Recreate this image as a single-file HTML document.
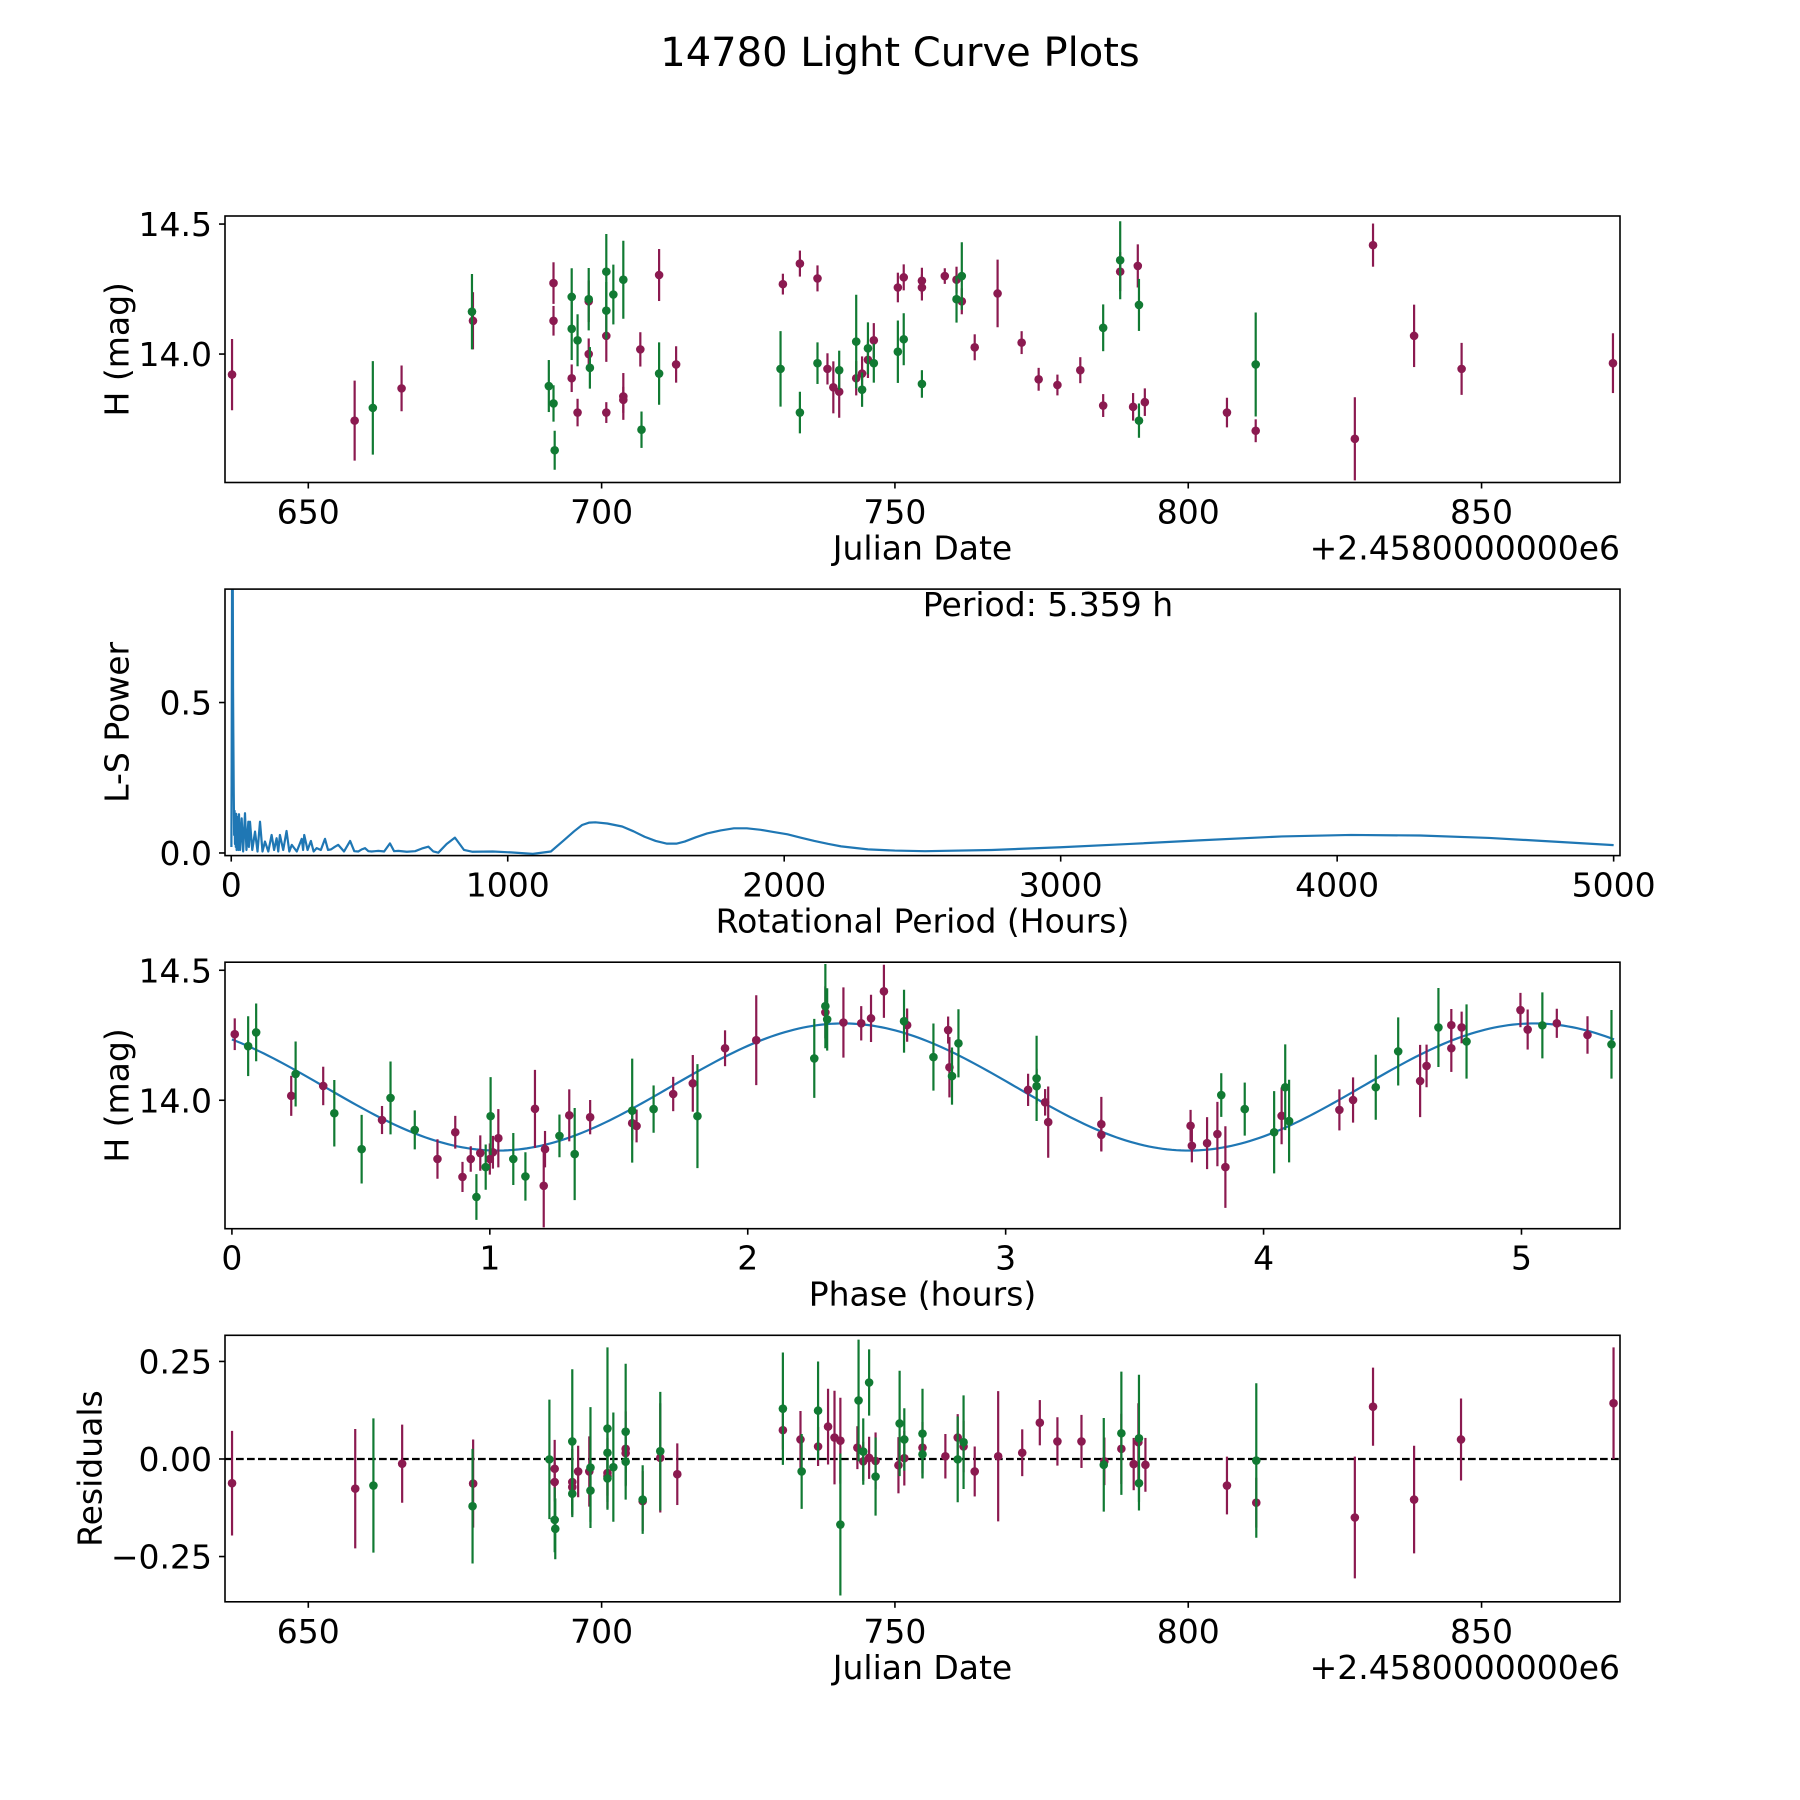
<!DOCTYPE html>
<html><head><meta charset="utf-8"><style>
html,body{margin:0;padding:0;background:#fff}
svg{display:block}
text{font-family:"DejaVu Sans","Liberation Sans",sans-serif;fill:#000}
</style></head><body>
<svg id="fig" width="1800" height="1800" viewBox="0 0 1800 1800" xmlns="http://www.w3.org/2000/svg">
<rect x="0" y="0" width="1800" height="1800" fill="#fff"/>
<text x="900" y="66" font-size="40" text-anchor="middle">14780 Light Curve Plots</text>
</svg>
<script>
// ---- Panel 1: light curve (JD offset, mag, err)
const jdM=[637.0,657.9,665.9,678.07,691.8,691.8,694.9,695.9,697.8,697.8,700.8,700.8,703.7,703.7,706.6,709.8,712.7,730.9,733.8,736.8,738.5,739.5,740.5,743.4,744.4,745.4,746.4,750.5,751.5,754.6,754.6,758.5,760.5,761.4,763.6,767.5,771.6,774.5,777.7,781.6,785.5,788.4,790.6,791.4,792.6,806.6,811.5,828.4,831.5,838.5,846.6,872.4];
const magM=[13.921,13.744,13.868,14.128,14.273,14.128,13.907,13.775,14.203,14.0,14.07,13.775,13.837,13.824,14.018,14.304,13.96,14.269,14.348,14.291,13.943,13.872,13.855,13.907,13.925,13.978,14.053,14.256,14.295,14.282,14.256,14.3,14.286,14.203,14.026,14.233,14.044,13.903,13.881,13.938,13.802,14.317,13.797,14.339,13.815,13.775,13.705,13.674,14.419,14.07,13.943,13.965];
const errM=[0.137,0.154,0.088,0.11,0.08,0.057,0.053,0.053,0.08,0.06,0.1,0.04,0.09,0.05,0.066,0.1,0.07,0.04,0.05,0.05,0.06,0.1,0.1,0.066,0.066,0.07,0.066,0.057,0.05,0.05,0.05,0.03,0.05,0.05,0.05,0.13,0.044,0.044,0.04,0.05,0.044,0.075,0.053,0.083,0.053,0.057,0.044,0.16,0.083,0.12,0.1,0.115];
const jdG=[661.0,677.9,691.0,691.8,692.0,694.9,694.9,695.9,697.8,698.0,700.8,700.8,702.0,703.7,706.8,709.8,730.5,733.8,736.8,740.5,743.4,744.4,745.4,746.4,750.5,751.5,754.6,760.5,761.4,785.5,788.4,791.6,791.6,811.5];
const magG=[13.793,14.163,13.877,13.81,13.63,14.22,14.097,14.053,14.211,13.947,14.317,14.167,14.229,14.286,13.709,13.925,13.943,13.775,13.965,13.938,14.048,13.863,14.022,13.965,14.009,14.057,13.885,14.211,14.3,14.101,14.361,14.189,13.744,13.96];
const errG=[0.18,0.145,0.1,0.07,0.075,0.11,0.12,0.1,0.12,0.08,0.145,0.11,0.115,0.15,0.07,0.12,0.145,0.08,0.08,0.075,0.18,0.066,0.1,0.075,0.12,0.1,0.053,0.09,0.13,0.09,0.15,0.1,0.066,0.2];
// ---- Panel 2: periodogram
const perHours=[0.5,1.5,3,4,5.4,6.5,7.5,9,10.5,12,13.5,15,16.5,18,19.5,21,22.5,24,26,28,32,37.7,43,49.7,55,61.8,64,67.8,76,86,95,104,113,122,134,146,155,164,170,176,188,200,210,219,237,255,260,264,276,288,298,309,324,339,350,361,374,387,408,430,445,460,472,484,496,508,520,532,553,574,589,604,635,665,690,713,731,749,779,809,842,873,946,1011,1091,1156,1204,1240,1269,1295,1317,1360,1414,1455,1495,1535,1576,1610,1640,1680,1721,1770,1818,1865,1915,1960,2012,2060,2109,2160,2206,2303,2400,2509,2750,3000,3250,3500,3800,4050,4300,4550,4800,5000];
const lsPower=[0.02,0.3,0.95,0.95,0.95,0.55,0.4,0.2,0.06,0.14,0.03,0.1,0.02,0.13,0.01,0.11,0.02,0.12,0.01,0.129,0.01,0.115,0.005,0.132,0.01,0.104,0.02,0.104,0.01,0.071,0.005,0.104,0.005,0.038,0.005,0.06,0.01,0.049,0.005,0.06,0.01,0.073,0.005,0.027,0.005,0.047,0.01,0.06,0.01,0.04,0.005,0.016,0.01,0.047,0.01,0.012,0.02,0.027,0.005,0.04,0.006,0.005,0.012,0.016,0.006,0.005,0.006,0.007,0.005,0.032,0.006,0.007,0.004,0.006,0.015,0.021,0.005,0.001,0.03,0.051,0.01,0.004,0.005,0.002,-0.003,0.005,0.043,0.072,0.093,0.101,0.102,0.098,0.088,0.072,0.054,0.04,0.031,0.031,0.038,0.052,0.065,0.075,0.082,0.082,0.077,0.07,0.062,0.051,0.04,0.03,0.022,0.012,0.008,0.006,0.01,0.019,0.03,0.042,0.055,0.06,0.058,0.05,0.037,0.026,0.02];
// ---- Panel 3: phased curve (hours, mag, err)
const phM=[0.011,0.23,0.354,0.582,0.797,0.866,0.926,0.894,0.963,1.0,1.012,1.033,1.175,1.209,1.214,1.308,1.389,1.552,1.569,1.711,1.787,1.912,2.033,2.301,2.371,2.44,2.478,2.528,2.618,2.777,2.782,3.087,3.153,3.165,3.371,3.371,3.717,3.722,3.781,3.821,3.852,4.07,4.294,4.347,4.607,4.632,4.728,4.728,4.768,4.996,5.024,5.137,5.256];
const phMagM=[14.254,14.017,14.055,13.924,13.774,13.877,13.774,13.705,13.797,13.774,13.8,13.854,13.967,13.671,13.812,13.942,13.935,13.912,13.901,14.024,14.065,14.2,14.231,14.338,14.299,14.296,14.315,14.419,14.289,14.27,14.127,14.04,13.992,13.916,13.908,13.867,13.902,13.825,13.835,13.87,13.743,13.94,13.963,14.001,14.074,14.132,14.289,14.2,14.28,14.347,14.272,14.296,14.251];
const phErrM=[0.061,0.077,0.074,0.054,0.076,0.063,0.049,0.058,0.068,0.06,0.063,0.112,0.15,0.16,0.07,0.1,0.066,0.066,0.063,0.066,0.109,0.069,0.173,0.1,0.135,0.066,0.091,0.102,0.064,0.052,0.116,0.062,0.051,0.137,0.105,0.06,0.061,0.064,0.1,0.124,0.157,0.109,0.079,0.087,0.139,0.082,0.062,0.091,0.061,0.066,0.077,0.056,0.072];
const phG=[0.063,0.094,0.247,0.397,0.503,0.615,0.709,0.948,0.984,1.003,1.091,1.138,1.27,1.329,1.552,1.635,1.805,2.258,2.301,2.308,2.606,2.72,2.792,2.817,3.12,3.12,3.836,3.927,4.041,4.084,4.099,4.435,4.522,4.678,4.787,5.081,5.349];
const phMagG=[14.208,14.261,14.101,13.95,13.812,14.009,13.886,13.628,13.743,13.939,13.774,13.707,13.863,13.793,13.96,13.966,13.939,14.161,14.362,14.311,14.304,14.166,14.093,14.219,14.084,14.054,14.02,13.966,13.877,14.05,13.92,14.05,14.188,14.28,14.226,14.288,14.215];
const phErrG=[0.115,0.111,0.125,0.128,0.132,0.14,0.075,0.088,0.087,0.15,0.1,0.093,0.082,0.177,0.2,0.091,0.2,0.152,0.162,0.12,0.121,0.129,0.11,0.131,0.164,0.067,0.084,0.102,0.158,0.165,0.159,0.125,0.131,0.152,0.143,0.127,0.132];
const modelMean=[14.051], modelAmp=[0.2445], modelPeak=[2.37], modelPeriod=[2.6795], phaseSpan=[5.359];
// ---- Panel 4: residuals
const rjdM=[637.0,658.0,666.0,678.1,692.0,692.0,695.0,695.0,696.0,697.9,701.0,701.0,704.1,704.1,707.0,710.0,712.9,730.9,733.9,736.9,738.6,739.7,740.7,743.6,744.6,745.6,746.7,750.6,751.6,754.7,758.6,760.7,761.7,763.6,767.6,771.7,774.7,777.7,781.8,785.7,788.6,790.7,791.5,792.7,806.6,811.6,828.4,831.5,838.5,846.5,872.5];
const resM=[-0.062,-0.076,-0.012,-0.063,-0.025,-0.059,-0.059,-0.072,-0.032,-0.032,-0.036,-0.044,0.026,0.015,-0.108,0.003,-0.039,0.074,0.05,0.032,0.083,0.055,0.047,0.029,-0.006,0.003,-0.005,-0.016,0.002,0.029,0.007,0.055,0.032,-0.032,0.007,0.016,0.093,0.045,0.045,-0.006,0.026,-0.013,0.043,-0.015,-0.068,-0.112,-0.15,0.134,-0.104,0.05,0.143];
const rerrM=[0.134,0.153,0.1,0.113,0.074,0.05,0.085,0.05,0.066,0.09,0.09,0.05,0.096,0.05,0.077,0.14,0.079,0.05,0.073,0.05,0.097,0.12,0.11,0.055,0.05,0.054,0.073,0.072,0.07,0.066,0.057,0.06,0.066,0.064,0.167,0.06,0.058,0.062,0.068,0.061,0.09,0.067,0.1,0.069,0.074,0.064,0.156,0.1,0.138,0.105,0.143];
const rjdG=[661.1,678.0,691.1,692.0,692.1,695.0,695.0,698.1,698.1,701.0,701.0,701.0,702.0,704.1,704.1,707.0,710.0,730.9,734.1,736.9,740.7,743.8,744.6,745.6,746.7,750.8,751.6,754.7,754.7,760.7,761.7,785.6,788.6,791.6,791.6,811.6];
const resG=[-0.068,-0.121,-0.001,-0.156,-0.179,0.045,-0.089,-0.022,-0.081,0.078,0.016,-0.05,-0.021,0.07,-0.007,-0.104,0.02,0.129,-0.032,0.124,-0.168,0.15,0.019,0.196,-0.045,0.091,0.05,0.065,0.012,-0.001,0.043,-0.015,0.066,0.053,-0.062,-0.004];
const rerrG=[0.172,0.147,0.153,0.083,0.078,0.185,0.06,0.155,0.08,0.208,0.06,0.06,0.14,0.174,0.06,0.088,0.152,0.144,0.096,0.126,0.182,0.156,0.085,0.085,0.1,0.135,0.08,0.115,0.06,0.11,0.12,0.12,0.158,0.163,0.07,0.198];

const NS='http://www.w3.org/2000/svg';
const svg=document.getElementById('fig');
const MAROON='#8b1a50', GREEN='#117a33', FS=33;
function mk(tag,attrs,parent){const e=document.createElementNS(NS,tag);for(const k in attrs)e.setAttribute(k,attrs[k]);(parent||svg).appendChild(e);return e;}
function fmt(v,d){const s=v.toFixed(d);return v<0?'\u2212'+s.slice(1):s;}

function makeAxes(id,top,xlim,ylim){
  const L=225,R=1620,H=266.5;
  const ax={id,L,R,T:top,B:top+H,
    sx:v=>L+(v-xlim[0])/(xlim[1]-xlim[0])*(R-L),
    sy:v=>top+H-(v-ylim[0])/(ylim[1]-ylim[0])*H};
  const cp=mk('clipPath',{id:'clip-'+id});
  mk('rect',{x:L,y:top,width:R-L,height:H},cp);
  ax.g=mk('g',{'clip-path':'url(#clip-'+id+')'});
  
  
  return ax;
}
function frame(ax,xticks,xlabels,yticks,ylabels,xtitle,ytitle,ytitleX,offset){
  const f=mk('rect',{x:ax.L,y:ax.T,width:ax.R-ax.L,height:ax.B-ax.T,fill:'none',stroke:'#000','stroke-width':1.6});
  
  
  xticks.forEach((v,i)=>{const x=ax.sx(v);
    mk('line',{x1:x,x2:x,y1:ax.B,y2:ax.B+6,stroke:'#000','stroke-width':1.6});
    const t=mk('text',{x:x,y:ax.B+41,'font-size':FS,'text-anchor':'middle'});t.textContent=xlabels[i];
    
    });
  yticks.forEach((v,i)=>{const y=ax.sy(v);
    mk('line',{x1:ax.L-6,x2:ax.L,y1:y,y2:y,stroke:'#000','stroke-width':1.6});
    const t=mk('text',{x:ax.L-13,y:y+12,'font-size':FS,'text-anchor':'end'});t.textContent=ylabels[i];
    
    });
  const xt=mk('text',{x:(ax.L+ax.R)/2,y:ax.B+77,'font-size':FS,'text-anchor':'middle'});xt.textContent=xtitle;
  
  
  const cy=(ax.T+ax.B)/2;
  const yt=mk('text',{x:ytitleX,y:cy,'font-size':FS,'text-anchor':'middle',transform:'rotate(-90 '+ytitleX+' '+cy+')','dominant-baseline':'central'});yt.textContent=ytitle;
  
  
  if(offset){const o=mk('text',{x:ax.R,y:ax.B+77,'font-size':FS,'text-anchor':'end'});o.textContent=offset;
    
    }
}
function errpts(ax,xs,ys,es,color,name){
  xs.forEach((xv,i)=>{const x=ax.sx(xv);
    const l=mk('line',{x1:x,x2:x,y1:ax.sy(ys[i]-es[i]),y2:ax.sy(ys[i]+es[i]),stroke:color,'stroke-width':2.2},ax.g);
    
    
    const c=mk('circle',{cx:x,cy:ax.sy(ys[i]),r:4.3,fill:color},ax.g);
    
    });
}
const jdTicks=[650,700,750,800,850], jdLabels=['650','700','750','800','850'];

// Panel 1
const a1=makeAxes('light-curve',216,[635.8,873.6],[13.506,14.531]);
errpts(a1,jdM,magM,errM,MAROON,'maroon');
errpts(a1,jdG,magG,errG,GREEN,'green');
frame(a1,jdTicks,jdLabels,[14.0,14.5],['14.0','14.5'],'Julian Date','H (mag)',117,'+2.4580000000e6');

// Panel 2
const a2=makeAxes('periodogram',589.1,[-22.6,5023],[-0.0087,0.877]);
let d='';perHours.forEach((p,i)=>{d+=(i?'L':'M')+a2.sx(p).toFixed(2)+','+a2.sy(lsPower[i]).toFixed(2);});
const pl=mk('path',{d:d,fill:'none',stroke:'#1f77b4','stroke-width':2.2,'stroke-linejoin':'round'},a2.g);


frame(a2,[0,1000,2000,3000,4000,5000],['0','1000','2000','3000','4000','5000'],[0,0.5],['0.0','0.5'],'Rotational Period (Hours)','L-S Power',117,null);
const pt=mk('text',{x:1048,y:616,'font-size':FS,'text-anchor':'middle'});pt.textContent='Period: 5.359 h';



// Panel 3
const a3=makeAxes('phase-curve',962.2,[-0.0268,5.382],[13.506,14.531]);
let md='';for(let i=0;i<=300;i++){const x=phaseSpan[0]*i/300;const y=modelMean[0]+modelAmp[0]*Math.cos(2*Math.PI*(x-modelPeak[0])/modelPeriod[0]);md+=(i?'L':'M')+a3.sx(x).toFixed(2)+','+a3.sy(y).toFixed(2);}
const ml=mk('path',{d:md,fill:'none',stroke:'#1f77b4','stroke-width':2.2},a3.g);


errpts(a3,phM,phMagM,phErrM,MAROON,'phase-maroon');
errpts(a3,phG,phMagG,phErrG,GREEN,'phase-green');
frame(a3,[0,1,2,3,4,5],['0','1','2','3','4','5'],[14.0,14.5],['14.0','14.5'],'Phase (hours)','H (mag)',117,null);

// Panel 4
const a4=makeAxes('residuals',1335.3,[635.8,873.6],[-0.366,0.317]);
const zl=mk('line',{x1:a4.L,x2:a4.R,y1:a4.sy(0),y2:a4.sy(0),stroke:'#000','stroke-width':2.2,'stroke-dasharray':'7.7,3.3'},a4.g);


errpts(a4,rjdM,resM,rerrM,MAROON,'residual-maroon');
errpts(a4,rjdG,resG,rerrG,GREEN,'residual-green');
frame(a4,jdTicks,jdLabels,[-0.25,0,0.25],[fmt(-0.25,2),'0.00','0.25'],'Julian Date','Residuals',90,'+2.4580000000e6');
</script>
</body></html>
